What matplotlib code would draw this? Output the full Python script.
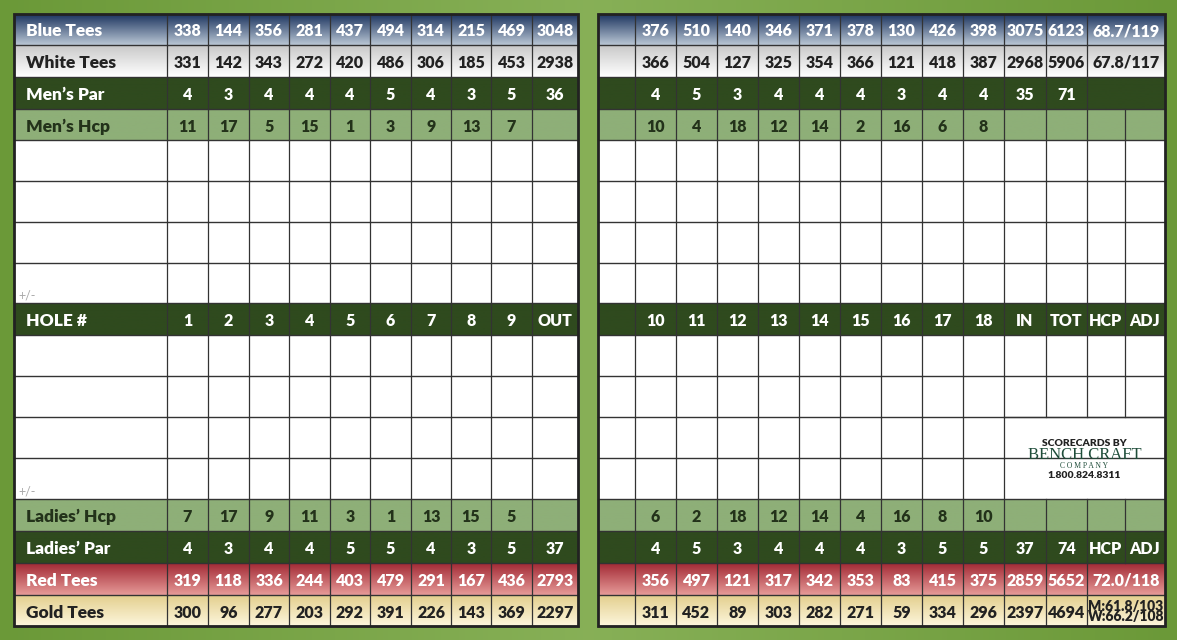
import numpy as np
import matplotlib
matplotlib.use("Agg")
import matplotlib.pyplot as plt
from matplotlib.patches import Rectangle

front_holes = ["1", "2", "3", "4", "5", "6", "7", "8", "9", "OUT"]
back_holes = ["10", "11", "12", "13", "14", "15", "16", "17", "18", "IN", "TOT", "HCP", "ADJ"]
blue_front = ["338", "144", "356", "281", "437", "494", "314", "215", "469", "3048"]
blue_back = ["376", "510", "140", "346", "371", "378", "130", "426", "398", "3075", "6123", "68.7/119"]
white_front = ["331", "142", "343", "272", "420", "486", "306", "185", "453", "2938"]
white_back = ["366", "504", "127", "325", "354", "366", "121", "418", "387", "2968", "5906", "67.8/117"]
mpar_front = ["4", "3", "4", "4", "4", "5", "4", "3", "5", "36"]
mpar_back = ["4", "5", "3", "4", "4", "4", "3", "4", "4", "35", "71", "", ""]
mhcp_front = ["11", "17", "5", "15", "1", "3", "9", "13", "7", ""]
mhcp_back = ["10", "4", "18", "12", "14", "2", "16", "6", "8", "", "", "", ""]
lhcp_front = ["7", "17", "9", "11", "3", "1", "13", "15", "5", ""]
lhcp_back = ["6", "2", "18", "12", "14", "4", "16", "8", "10", "", "", "", ""]
lpar_front = ["4", "3", "4", "4", "5", "5", "4", "3", "5", "37"]
lpar_back = ["4", "5", "3", "4", "4", "4", "3", "5", "5", "37", "74", "HCP", "ADJ"]
red_front = ["319", "118", "336", "244", "403", "479", "291", "167", "436", "2793"]
red_back = ["356", "497", "121", "317", "342", "353", "83", "415", "375", "2859", "5652", "72.0/118"]
gold_front = ["300", "96", "277", "203", "292", "391", "226", "143", "369", "2297"]
gold_back = ["311", "452", "89", "303", "282", "271", "59", "334", "296", "2397", "4694", "M:61.8/103\nW:66.2/108"]

W, H = 1177, 640
fig = plt.figure(figsize=(W / 100, H / 100), dpi=100)
ax = fig.add_axes([0, 0, 1, 1])
ax.set_xlim(0, W); ax.set_ylim(H, 0); ax.axis("off")

g = np.linspace(0, 1, 200)
bg = np.abs(g[None, :] - 0.5)[:, :, None] * 2
c1 = np.array([0.53, 0.69, 0.34]); c2 = np.array([0.42, 0.60, 0.22])
img = c1 * (1 - bg) + c2 * bg
ax.imshow(np.repeat(img, 2, axis=0), extent=[0, W, H, 0], aspect="auto", zorder=0)

rows_y = [14, 45, 77, 109, 140, 181, 222, 263, 303, 335, 376, 417, 458, 499, 531, 563, 595, 626]
Lx = [14, 167, 208, 249, 289, 330, 370, 411, 451, 491, 532, 578]
Rx = [598, 635, 676, 717, 758, 799, 840, 881, 922, 963, 1004, 1046, 1087, 1125, 1165]

DK = "#2f4a1e"; LG = "#8eaf78"; EDGE = "#333333"

def grad(x0, x1, y0, y1, top, bot):
    t = np.linspace(0, 1, 50)[:, None, None]
    a = np.array(matplotlib.colors.to_rgb(top)); b = np.array(matplotlib.colors.to_rgb(bot))
    im = a * (1 - t) + b * t
    ax.imshow(im, extent=[x0, x1, y1, y0], aspect="auto", zorder=1)

styles = {
    "blue": ("#1d3560", "#b9c6d4", "white"),
    "white": ("#c9c9c9", "#ffffff", "#222222"),
    "dk": (DK, DK, "white"),
    "lg": (LG, LG, "#23321a"),
    "blank": ("#ffffff", "#ffffff", "#222222"),
    "red": ("#a32a35", "#e69a98", "white"),
    "gold": ("#e3cf8e", "#fdf6dc", "#222222"),
}
row_kinds = ["blue", "white", "dk", "lg", "blank", "blank", "blank", "blank", "dk",
             "blank", "blank", "blank", "blank", "lg", "dk", "red", "gold"]
labels = ["Blue Tees", "White Tees", "Men\u2019s Par", "Men\u2019s Hcp", "", "", "", "", "HOLE #",
          "", "", "", "", "Ladies\u2019 Hcp", "Ladies\u2019 Par", "Red Tees", "Gold Tees"]
front_data = {0: blue_front, 1: white_front, 2: mpar_front, 3: mhcp_front, 8: front_holes,
              13: lhcp_front, 14: lpar_front, 15: red_front, 16: gold_front}
back_data = {0: blue_back, 1: white_back, 2: mpar_back, 3: mhcp_back, 8: back_holes,
             13: lhcp_back, 14: lpar_back, 15: red_back, 16: gold_back}

FONT = "Lato"
DY = 2
for i, kind in enumerate(row_kinds):
    y0, y1 = rows_y[i], rows_y[i + 1]
    top, bot, tc = styles[kind]
    for xs in (Lx, Rx):
        grad(xs[0], xs[-1], y0, y1, top, bot)
        ax.plot([xs[0], xs[-1]], [y0, y0], color=EDGE, lw=1, zorder=3)
    ym = (y0 + y1) / 2 + DY
    if labels[i]:
        ax.text(26, ym, labels[i], color=tc, fontsize=12.5, fontweight="heavy",
                va="center", ha="left", family=FONT, zorder=5)
    if kind == "blank" and i in (7, 12):
        ax.text(18, y1 - 8, "+/-", color="#aaaaaa", fontsize=9, va="center", family=FONT, zorder=5)
    for x in Lx[1:-1]:
        ax.plot([x, x], [y0, y1], color=EDGE, lw=0.9, zorder=3)
    vals = front_data.get(i)
    if vals:
        for j, v in enumerate(vals):
            ax.text((Lx[j + 1] + Lx[j + 2]) / 2, ym, v, color=tc, fontsize=11.5, fontweight="heavy",
                    ha="center", va="center", family=FONT, zorder=5)
    vals = back_data.get(i)
    merged_last = vals is not None and len(vals) == 12
    logo_rows = i in (11, 12)
    for k, x in enumerate(Rx[1:-1]):
        xi = k + 1
        if merged_last and xi == 13:
            continue
        if logo_rows and xi >= 11:
            continue
        if i == 2 and xi == 13:
            continue
        ax.plot([x, x], [y0, y1], color=EDGE, lw=0.9, zorder=3)
    if vals:
        for j, v in enumerate(vals):
            if j == 11 and merged_last:
                cx = (Rx[12] + Rx[14]) / 2
                fs = 11.5 if "\n" not in v else 10
                ax.text(cx, ym - (1 if "\n" in v else 0), v, color=tc, fontsize=fs, fontweight="heavy",
                        ha="center", va="center", family=FONT, zorder=5, linespacing=0.8)
            else:
                cx = (Rx[j + 1] + Rx[j + 2]) / 2
                ax.text(cx, ym, v, color=tc, fontsize=11.5, fontweight="heavy", ha="center",
                        va="center", family=FONT, zorder=5)

for xs in (Lx, Rx):
    ax.plot([xs[0], xs[-1]], [rows_y[-1]] * 2, color=EDGE, lw=1, zorder=3)
    ax.add_patch(Rectangle((xs[0], rows_y[0]), xs[-1] - xs[0], rows_y[-1] - rows_y[0],
                           fill=False, ec="#222222", lw=2, zorder=4))
ax.plot([Rx[10], Rx[-1]], [rows_y[11], rows_y[11]], color=EDGE, lw=0.9, zorder=3)

lx = (Rx[10] + Rx[-1]) / 2
ax.text(lx, 443, "SCORECARDS BY", fontsize=7.5, fontweight="heavy", ha="center", va="center",
        color="#222222", family=FONT, zorder=6)
ax.text(lx, 455, "BENCH CRAFT", fontsize=12, ha="center", va="center", color="#1f4d3a",
        family="Liberation Serif", zorder=6)
ax.text(lx, 466, "C O M P A N Y", fontsize=5.5, ha="center", va="center", color="#1f4d3a",
        family="Liberation Serif", zorder=6)
ax.text(lx, 476, "1.800.824.8311", fontsize=7.5, fontweight="heavy", ha="center", va="center",
        color="#222222", family=FONT, zorder=6)

fig.savefig("out.png", dpi=100)
